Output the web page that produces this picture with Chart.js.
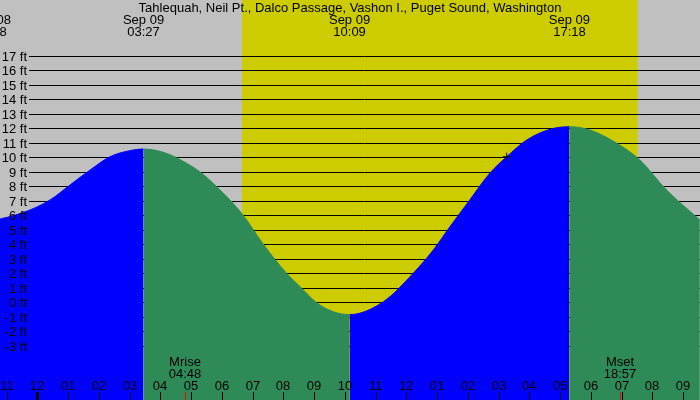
<!DOCTYPE html>
<html>
<head>
<meta charset="utf-8">
<script src="https://cdn.jsdelivr.net/npm/chart.js@4.4.1/dist/chart.umd.min.js"></script>
<style>
  html, body { margin: 0; padding: 0; background: #c0c0c0; }
  #wrap { width: 700px; height: 400px; position: relative; }
</style>
</head>
<body>
<div id="wrap"><canvas id="tideChart"></canvas></div>
<script>
const stationName = 'Tahlequah, Neil Pt., Dalco Passage, Vashon I., Puget Sound, Washington';

// hours counted from Sep 09 00:00, height in ft
const tideHours = [-1.53, -1.22, -0.24, 0.41, 1.06, 1.71, 2.36, 3.01, 3.45,
  4.2, 4.85, 5.28, 5.83, 6.64, 7.34, 8.1, 8.54, 9.08, 9.62, 10.15,
  11.25, 12.22, 12.87, 13.41, 14.06, 14.71, 15.26, 15.91, 16.67, 17.3,
  17.97, 18.84, 19.59, 20.46, 21.54];
const tideFeet = [5.65, 5.74, 6.37, 7.06, 8.09, 9.12, 10.04, 10.46, 10.57,
  10.27, 9.59, 9.0, 7.97, 6.14, 4.02, 2.0, 1.08, -0.03, -0.65, -0.85,
  0.04, 2.0, 3.6, 5.2, 7.06, 8.9, 10.04, 11.19, 11.93, 12.11,
  11.88, 10.97, 9.81, 7.74, 5.68];

// high / low tide events
const eventHours = [-1.53, 3.45, 10.15, 17.3];
const eventDays = ['Sep 08', 'Sep 09', 'Sep 09', 'Sep 09'];
const eventClock = ['22:28', '03:27', '10:09', '17:18'];

const sunHours = [6.65, 19.52];
const moonHours = [4.8, 18.95];
const moonNames = ['Mrise', 'Mset'];
const moonClock = ['04:48', '18:57'];

const hourTicks = [-1, 0, 1, 2, 3, 4, 5, 6, 7, 8, 9, 10, 11, 12, 13, 14, 15, 16, 17, 18, 19, 20, 21];
const hourLabels = ['11', '12', '01', '02', '03', '04', '05', '06', '07', '08', '09', '10',
  '11', '12', '01', '02', '03', '04', '05', '06', '07', '08', '09'];
const footTicks = [17, 16, 15, 14, 13, 12, 11, 10, 9, 8, 7, 6, 5, 4, 3, 2, 1, 0, -1, -2, -3];

const nowHour = [15.26];
const nowFeet = [10.04];

const FONT = '13px "Liberation Sans", Arial, sans-serif';
const RISING = '#0000ff';
const FALLING = '#2e8b57';

// flood part blue, ebb part green
const tideColor = c => (c.p1.parsed.y >= c.p0.parsed.y ? RISING : FALLING);

const backdrop = {
  id: 'backdrop',
  beforeDatasetsDraw(chart) {
    const { ctx, scales: { x, y }, width, height } = chart;
    ctx.save();
    ctx.fillStyle = '#c0c0c0';
    ctx.fillRect(0, 0, width, height);
    const x0 = x.getPixelForValue(sunHours[0]);
    const x1 = x.getPixelForValue(sunHours[1]);
    ctx.fillStyle = '#cccc00';
    ctx.fillRect(x0, 0, x1 - x0, height);
    ctx.strokeStyle = '#000';
    ctx.lineWidth = 1;
    footTicks.forEach(f => {
      const py = Math.round(y.getPixelForValue(f)) + 0.5;
      ctx.beginPath();
      ctx.moveTo(29, py);
      ctx.lineTo(width, py);
      ctx.stroke();
    });
    ctx.restore();
  }
};

const labels = {
  id: 'labels',
  afterDatasetsDraw(chart) {
    const { ctx, scales: { x, y }, width, height } = chart;
    ctx.save();
    ctx.font = FONT;
    ctx.fillStyle = '#000';
    ctx.textBaseline = 'alphabetic';

    // station name and tide events
    ctx.textAlign = 'center';
    ctx.fillText(stationName, width / 2, 12);
    eventHours.forEach((h, i) => {
      const px = x.getPixelForValue(h);
      ctx.fillText(eventDays[i], px, 24);
      ctx.fillText(eventClock[i], px, 36);
    });

    // foot labels
    ctx.textAlign = 'right';
    footTicks.forEach(f => {
      const py = y.getPixelForValue(f);
      ctx.fillText(f + ' ft', 27, Math.round(py) + 5);
    });

    // hour ticks
    ctx.textAlign = 'center';
    hourTicks.forEach((h, i) => {
      const px = Math.round(x.getPixelForValue(h));
      ctx.fillText(hourLabels[i], px, 390);
      if (h % 24 === 0) ctx.fillRect(px - 1, 392, 3, height - 392);
      else ctx.fillRect(px, 392, 1, height - 392);
    });

    // moon rise / set
    moonHours.forEach((h, i) => {
      const px = Math.round(x.getPixelForValue(h));
      ctx.fillStyle = '#000';
      ctx.fillText(moonNames[i], px, 366);
      ctx.fillText(moonClock[i], px, 378);
      ctx.fillStyle = '#ff0000';
      ctx.fillRect(px, 392, 1, height - 392);
    });
    ctx.restore();
  }
};

new Chart(document.getElementById('tideChart'), {
  type: 'line',
  data: {
    datasets: [
      {
        data: nowHour.map((h, i) => ({ x: h, y: nowFeet[i] })),
        showLine: false,
        pointStyle: 'cross',
        pointRadius: 4,
        borderColor: '#000',
        borderWidth: 1,
        order: -1
      },
      {
        data: tideHours.map((h, i) => ({ x: h, y: tideFeet[i] })),
        fill: 'start',
        backgroundColor: RISING,
        borderColor: RISING,
        borderWidth: 1,
        pointRadius: 0,
        cubicInterpolationMode: 'monotone',
        segment: { backgroundColor: tideColor, borderColor: tideColor }
      }
    ]
  },
  options: {
    responsive: true,
    maintainAspectRatio: false,
    animation: false,
    events: [],
    layout: { padding: 0, autoPadding: false },
    scales: {
      x: { type: 'linear', min: -1.218, max: 21.546, display: false },
      y: { type: 'linear', min: -6.74, max: 20.85, display: false }
    },
    plugins: {
      legend: { display: false },
      tooltip: { enabled: false }
    }
  },
  plugins: [backdrop, labels]
});
</script>
</body>
</html>
